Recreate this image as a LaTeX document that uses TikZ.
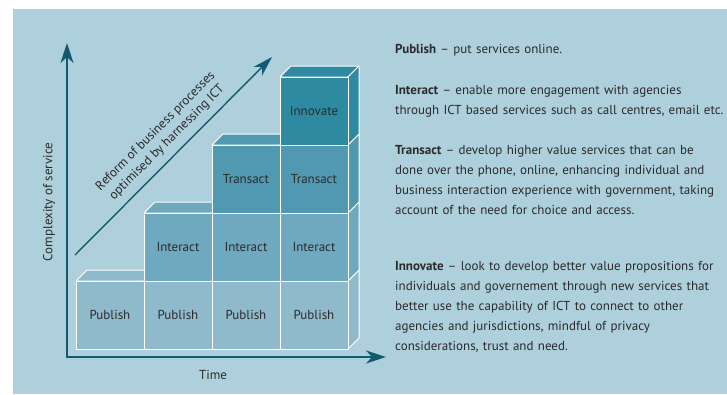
\documentclass[tikz,border=0pt]{standalone}
\usepackage{fontspec}
\setmainfont{PT Sans}
\usetikzlibrary{arrows.meta,positioning}
\definecolor{panel}{HTML}{AECFDC}
\definecolor{pub}{HTML}{8FBACC}
\definecolor{int}{HTML}{6FA9BF}
\definecolor{tra}{HTML}{5198B1}
\definecolor{inn}{HTML}{2D8AA1}
\definecolor{axiscol}{HTML}{135A70}
\definecolor{txt}{HTML}{2B2B2B}

\tikzset{
  box/.style = {draw=white, line width=1pt, line join=round},
  lbl/.style = {text=txt, font=\fontsize{13}{15}\selectfont},
  para/.style = {anchor=north west, inner sep=0pt, text width=340pt, align=left,
                 text=txt, font=\fontsize{13}{20}\selectfont},
  axis/.style = {draw=axiscol, line width=1.8pt,
                 {Stealth[length=20pt,width=13pt,inset=6pt]}-{Stealth[length=20pt,width=13pt,inset=6pt]}},
  diag/.style = {draw=axiscol, line width=1.4pt,
                 -{Stealth[length=20pt,width=12pt,inset=6pt]}}
}

\begin{document}
\begin{tikzpicture}[x=1pt, y=-1pt]
\useasboundingbox (0,0) rectangle (727,394);
\fill[panel] (13,9) rectangle (727,394);

% stacked blocks, column by column, bottom up
\foreach \c/\r/\f/\t in {1/1/pub/Publish, 2/1/pub/Publish, 2/2/int/Interact,
    3/1/pub/Publish, 3/2/int/Interact, 3/3/tra/Transact,
    4/1/pub/Publish, 4/2/int/Interact, 4/3/tra/Transact, 4/4/inn/Innovate} {
  \pgfmathsetmacro\xa{76+68*(\c-1)}
  \pgfmathsetmacro\ya{349-68*(\r-1)}
  \filldraw[box, fill=\f] (\xa,\ya-68) -- ++(11,-11) -- ++(68,0) -- ++(-11,11) -- cycle;
  \filldraw[box, fill=\f] (\xa+68,\ya) -- ++(11,-11) -- ++(0,-68) -- ++(-11,11) -- cycle;
  \filldraw[box, fill=\f] (\xa,\ya) rectangle ++(68,-68);
  \node[lbl] (b\c\r) at (\xa+34,\ya-34) {\t};
}

% axes
\coordinate (o) at (67,357);
\coordinate (ytip) at (67,43);
\coordinate (xtip) at (386,357);
\draw[axis] (ytip) -- (o) -- (xtip);
\node[lbl, rotate=90] (ylab) at (49,202) {Complexity of service};
\node[lbl] (xlab) at (213,375) {Time};

% reform arrow
\coordinate (d0) at (75,255);
\coordinate (d1) at (272,57);
\draw[diag] (d0) -- (d1);
\node[lbl, rotate=45, align=center, font=\fontsize{13}{16}\selectfont] (reform) at (161.5,137)
  {Reform of business processes\\optimised by harnessing ICT};

% descriptions
\node[para] (pdesc) at (395,44.5) {\textbf{Publish} -- put services online.};
\node[para] (idesc) at (395,85.5) {\textbf{Interact} -- enable more engagement with agencies\\
  through ICT based services such as call centres, email etc.};
\node[para] (tdesc) at (395,145.5) {\textbf{Transact} -- develop higher value services that can be\\
  done over the phone, online, enhancing individual and\\
  business interaction experience with government, taking\\
  account of the need for choice and access.};
\node[para] (ndesc) at (395,261) {\textbf{Innovate} -- look to develop better value propositions for\\
  individuals and governement through new services that\\
  better use the capability of ICT to connect to other\\
  agencies and jurisdictions, mindful of privacy\\
  considerations, trust and need.};
\end{tikzpicture}
\end{document}
